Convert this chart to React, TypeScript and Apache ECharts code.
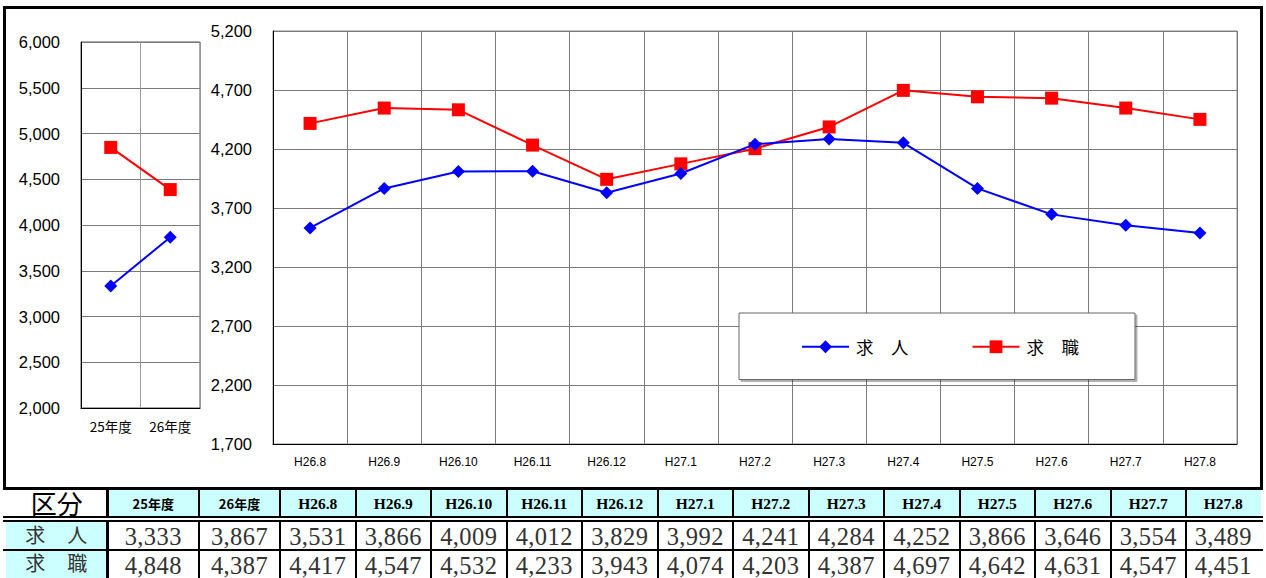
import React, { useEffect, useRef } from 'react';
import * as echarts from 'echarts';

const yearCats = ['25年度', '26年度'];
const yearKyujin = [3333, 3867];
const yearKyushoku = [4848, 4387];
const monthCats = ['H26.8', 'H26.9', 'H26.10', 'H26.11', 'H26.12', 'H27.1', 'H27.2', 'H27.3', 'H27.4', 'H27.5', 'H27.6', 'H27.7', 'H27.8'];
const monthKyujin = [3531, 3866, 4009, 4012, 3829, 3992, 4241, 4284, 4252, 3866, 3646, 3554, 3489];
const monthKyushoku = [4417, 4547, 4532, 4233, 3943, 4074, 4203, 4387, 4697, 4642, 4631, 4547, 4451];
const seriesNames = ['求人', '求職'];
const tableCorner = '区分';

const spaced = (s: string) => s.split('').join('\u3000');
const fmt = (v: number) => v.toLocaleString('en-US');

const SANS = '"Liberation Sans", Arial, sans-serif';
const CJK = '"Noto Sans CJK JP", sans-serif';
const SERIF = '"Liberation Serif", "Noto Sans CJK JP", serif';

// table geometry
const colEdges: number[] = [6, 107.5, 199, 280];
for (let k = 1; k <= 12; k++) colEdges.push(280 + 75.5 * k);
colEdges.push(1260.5);

const headerTop = 490, headerBottom = 516;
const row1Top = 522, row1Bottom = 549;
const row2Top = 551, row2Bottom = 578;

function Table() {
  const headers = [tableCorner, ...yearCats, ...monthCats];
  const r1 = [...yearKyujin, ...monthKyujin];
  const r2 = [...yearKyushoku, ...monthKyushoku];
  const cells: React.ReactNode[] = [];
  const abs = (x: number, y: number, w: number, h: number, extra: React.CSSProperties = {}): React.CSSProperties => ({
    position: 'absolute', left: x, top: y, width: w, height: h, boxSizing: 'border-box', ...extra,
  });
  for (let i = 0; i < colEdges.length - 1; i++) {
    const x0 = colEdges[i], x1 = colEdges[i + 1];
    const isLabel = i === 0;
    const isYear = i === 1 || i === 2;
    // header
    cells.push(
      <div key={'h' + i} style={abs(x0, headerTop, x1 - x0, headerBottom - headerTop, {
        background: isLabel ? '#fff' : '#ccffff', display: 'flex', alignItems: 'center', justifyContent: 'center',
        fontFamily: isLabel || isYear ? CJK : SERIF, fontWeight: isLabel ? 400 : 700,
        fontSize: isLabel ? 26 : (isYear ? 13 : 15.5), color: '#000',
        lineHeight: 1, paddingTop: isLabel ? 0 : 1,
      })}>{headers[i]}</div>
    );
    // rows
    [[r1, row1Top, row1Bottom, seriesNames[0], -1], [r2, row2Top, row2Bottom, seriesNames[1], -2]].forEach(([arr, t, b, nm, shift]: any, ri) => {
      cells.push(
        <div key={'r' + ri + '_' + i} style={abs(x0, t, x1 - x0, b - t, {
          background: isLabel ? '#ccffff' : '#fff', display: 'flex', alignItems: 'center', justifyContent: 'center',
          fontFamily: isLabel ? CJK : SERIF, fontSize: isLabel ? 20 : 24.5, letterSpacing: isLabel ? 0 : 0.4, color: '#333',
          lineHeight: 1, paddingTop: isLabel ? 0 : 3,
        })}>{isLabel ? <span style={{ position: 'relative', top: shift, fontSize: 20, letterSpacing: 1 }}>{spaced(nm)}</span> : fmt(arr[i - 1])}</div>
      );
    });
  }
  // horizontal lines
  cells.push(<div key="hl0" style={abs(3, 487, 1260, 3, { background: '#000' })} />);
  cells.push(<div key="hl1" style={abs(3, 516, 1260, 2, { background: '#000' })} />);
  cells.push(<div key="hl2" style={abs(3, 520, 1260, 2, { background: '#000' })} />);
  cells.push(<div key="hl3" style={abs(3, 549, 1260, 2, { background: '#000' })} />);
  // vertical lines
  for (let i = 1; i < colEdges.length - 1; i++) {
    const w = i === 1 ? 3 : 2;
    const x = Math.round(colEdges[i] - w / 2);
    cells.push(<div key={'v' + i + 'a'} style={abs(x, 490, w, 26, { background: '#000' })} />);
    cells.push(<div key={'v' + i + 'b'} style={abs(x, 522, w, 56, { background: '#000' })} />);
  }
  return <>{cells}</>;
}

export default function App() {
  const ref = useRef<HTMLDivElement>(null);
  useEffect(() => {
    document.body.style.margin = '0';
    if (!ref.current) return;
    const chart = echarts.init(ref.current, undefined, { renderer: 'svg' });
    const gridLine = { show: true, lineStyle: { color: '#7a7a7a', width: 1 } };
    const axisLine = { show: true, lineStyle: { color: '#000', width: 1 } };
    const yLabel = { fontSize: 16.5, fontFamily: SANS, color: '#000', margin: 21, formatter: (v: number) => fmt(v) };
    const lineSeries = (name: string, idx: number, data: number[]) => {
      const isJin = name === seriesNames[0];
      return {
        name, type: 'line', xAxisIndex: idx, yAxisIndex: idx, data,
        symbol: isJin ? 'diamond' : 'rect', symbolSize: 13,
        itemStyle: { color: isJin ? '#0000ff' : '#ff0000' },
        lineStyle: { color: isJin ? '#0000ff' : '#ff0000', width: 2 },
        z: isJin ? 3 : 2,
      };
    };
    chart.setOption({
      animation: false,
      backgroundColor: '#fff',
      textStyle: { fontFamily: SANS },
      grid: [
        { left: 81, top: 42, width: 119, height: 366, show: true, borderColor: '#555', borderWidth: 1 },
        { left: 273, top: 31, width: 964, height: 413, show: true, borderColor: '#888', borderWidth: 1 },
      ],
      xAxis: [
        { gridIndex: 0, type: 'category', data: yearCats, boundaryGap: true, axisLine, axisTick: { show: false },
          axisLabel: { fontSize: 13.5, fontFamily: CJK, color: '#000', margin: 11 }, splitLine: { show: true, lineStyle: { color: '#999' } } },
        { gridIndex: 1, type: 'category', data: monthCats, boundaryGap: true, axisLine, axisTick: { show: false },
          axisLabel: { fontSize: 12, fontFamily: SANS, color: '#000', margin: 12, interval: 0 }, splitLine: gridLine },
      ],
      yAxis: [
        { gridIndex: 0, type: 'value', min: 2000, max: 6000, interval: 500, axisLine, axisTick: { show: false }, axisLabel: yLabel, splitLine: gridLine },
        { gridIndex: 1, type: 'value', min: 1700, max: 5200, interval: 500, axisLine, axisTick: { show: false }, axisLabel: yLabel, splitLine: gridLine },
      ],
      legend: {
        data: seriesNames,
        left: 739, top: 313,
        itemWidth: 47, itemHeight: 16, itemGap: 63,
        padding: [25, 56, 24, 62],
        backgroundColor: '#fff', borderColor: '#666', borderWidth: 1,
        shadowColor: 'rgba(0,0,0,0.3)', shadowOffsetX: 2, shadowOffsetY: 2, shadowBlur: 1,
        selectedMode: false,
        formatter: (n: string) => spaced(n),
        textStyle: { fontSize: 17.5, fontFamily: CJK, color: '#000', padding: [0, 0, 0, 2] },
      },
      series: [
        lineSeries(seriesNames[0], 0, yearKyujin),
        lineSeries(seriesNames[1], 0, yearKyushoku),
        lineSeries(seriesNames[0], 1, monthKyujin),
        lineSeries(seriesNames[1], 1, monthKyushoku),
      ],
    });
    return () => chart.dispose();
  }, []);
  return (
    <div style={{ position: 'absolute', left: 0, top: 0, width: 1266, height: 578, overflow: 'hidden', background: '#fff' }}>
      <div ref={ref} style={{ position: 'absolute', left: 0, top: 0, width: 1266, height: 578 }} />
      <div style={{ position: 'absolute', left: 3, top: 6, width: 1260, height: 484, border: '3px solid #000', borderBottom: 'none', boxSizing: 'border-box', pointerEvents: 'none' }} />
      <Table />
    </div>
  );
}
